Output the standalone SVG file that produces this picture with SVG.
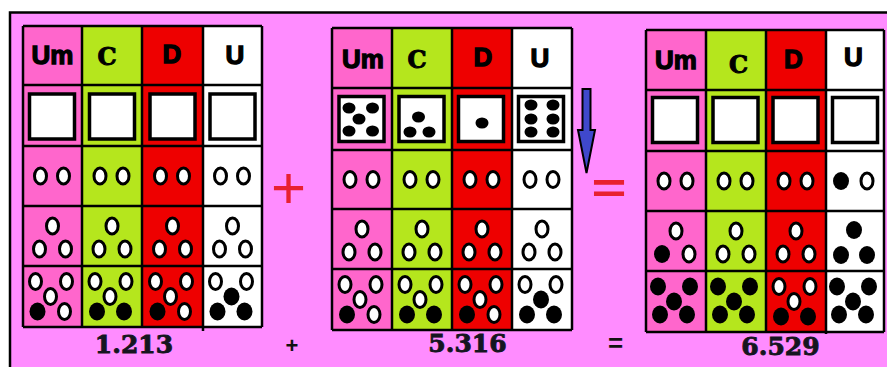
<svg xmlns="http://www.w3.org/2000/svg" width="887" height="367" viewBox="0 0 887 367">
<style>
.pk{fill:#FF66CC}.lm{fill:#B5E61D}.rd{fill:#EE0000}.wh{fill:#FFFFFF}
.gl{stroke:#000;stroke-width:2.5;fill:none}
.w{fill:#fff;stroke:#000;stroke-width:3}
.b{fill:#000}
.sq{fill:#fff;stroke:#000;stroke-width:3.5}
.hd{font-family:"Liberation Sans",Arial,sans-serif;font-weight:bold;font-size:26px;fill:#000;stroke:#000;stroke-width:1.3;text-anchor:middle}
.hc{font-family:"DejaVu Serif","Liberation Serif",serif;font-weight:bold;font-size:24px;fill:#000;stroke:#000;stroke-width:1;text-anchor:middle}
.num{font-family:"DejaVu Serif","Liberation Serif",serif;font-weight:bold;font-size:25px;fill:#151520;stroke:#151520;stroke-width:0.9;text-anchor:middle}
.op{font-family:"Liberation Sans",Arial,sans-serif;font-weight:bold;fill:#111;text-anchor:middle}
.rop{font-family:"Liberation Sans",Arial,sans-serif;fill:#E82030;text-anchor:middle}
</style>
<defs>
<ellipse id="dw" class="w" rx="6" ry="8"/>
<ellipse id="db" class="b" rx="8" ry="9"/>
<ellipse id="dd" class="b" rx="6.5" ry="5.5"/>
<rect id="sqr" class="sq" x="-22.5" y="-22.5" width="45" height="45"/>
<g id="r3ww"><use href="#dw" x="-12"/><use href="#dw" x="11"/></g>
<g id="r3bw"><use href="#db" x="-14"/><use href="#dw" x="12"/></g>
<g id="r4www"><use href="#dw" y="-10"/><use href="#dw" x="-13" y="13"/><use href="#dw" x="13" y="13"/></g>
<g id="r4wbw"><use href="#dw" y="-10"/><use href="#db" x="-14" y="13"/><use href="#dw" x="13" y="13"/></g>
<g id="r4bbb"><use href="#db" x="-1" y="-11"/><use href="#db" x="-14" y="14"/><use href="#db" x="12" y="14"/></g>
<g id="q1"><use href="#dw" x="-17" y="-15"/><use href="#dw" x="14" y="-15"/><use href="#dw" x="-2"/><use href="#db" x="-15" y="15"/><use href="#dw" x="12" y="15"/></g>
<g id="q2"><use href="#dw" x="-17" y="-15"/><use href="#dw" x="14" y="-15"/><use href="#dw" x="-2"/><use href="#db" x="-15" y="15"/><use href="#db" x="12" y="15"/></g>
<g id="q3"><use href="#dw" x="-17" y="-15"/><use href="#dw" x="14" y="-15"/><use href="#db" x="-1"/><use href="#db" x="-15" y="15"/><use href="#db" x="12" y="15"/></g>
<g id="q5"><use href="#db" x="-18" y="-15"/><use href="#db" x="14" y="-15"/><use href="#db" x="-2"/><use href="#db" x="-16" y="13"/><use href="#db" x="11" y="13"/></g>
<g id="d5"><use href="#dd" x="-13" y="-11"/><use href="#dd" x="10.5" y="-11"/><use href="#dd" x="-3"/><use href="#dd" x="-13" y="12"/><use href="#dd" x="10.5" y="12"/></g>
<g id="d3"><use href="#dd" x="-3.5" y="-2"/><use href="#dd" x="-12" y="13"/><use href="#dd" x="7" y="13"/></g>
<g id="d1"><use href="#dd" y="4"/></g>
<g id="d6"><use href="#dd" x="-11" y="-14"/><use href="#dd" x="11" y="-14"/><use href="#dd" x="-11"/><use href="#dd" x="11"/><use href="#dd" x="-11" y="13"/><use href="#dd" x="11" y="13"/></g>
</defs>
<rect width="887" height="367" fill="#fff"/>
<rect x="10" y="12.5" width="900" height="400" fill="#FF8CFF" stroke="#000" stroke-width="2.5"/>

<g id="grid1">
<rect class="pk" x="23" y="26" width="59" height="301"/>
<rect class="lm" x="82" y="26" width="60" height="301"/>
<rect class="rd" x="142" y="26" width="61" height="301"/>
<rect class="wh" x="203" y="26" width="59" height="301"/>
<path class="gl" d="M23 26V327M82 26V327M142 26V327M203 26V331M262 26V327M23 26H262M23 85H262M23 146H262M23 206H262M23 266H262M23 327H262"/>
<text class="hd" x="52.5" y="64">Um</text>
<text class="hc" x="107" y="65">C</text>
<text class="hd" x="172" y="63">D</text>
<text class="hd" x="235" y="64">U</text>
<use href="#sqr" x="52" y="116.5"/><use href="#sqr" x="112" y="116.5"/><use href="#sqr" x="172.5" y="116.5"/><use href="#sqr" x="232.5" y="116.5"/>
<use href="#r3ww" x="52.5" y="176"/><use href="#r3ww" x="112" y="176"/><use href="#r3ww" x="172.5" y="176"/><use href="#r3ww" x="232.5" y="176"/>
<use href="#r4www" x="52.5" y="236"/><use href="#r4www" x="112" y="236"/><use href="#r4www" x="172.5" y="236"/><use href="#r4www" x="232.5" y="236"/>
<use href="#q1" x="52.5" y="296.5"/><use href="#q2" x="112" y="296.5"/><use href="#q1" x="172.5" y="296.5"/><use href="#q3" x="232.5" y="296.5"/>
<text class="num" x="134" y="353">1.213</text>
</g>

<g id="grid2">
<rect class="pk" x="332" y="28" width="60" height="302"/>
<rect class="lm" x="392" y="28" width="60" height="302"/>
<rect class="rd" x="452" y="28" width="60" height="302"/>
<rect class="wh" x="512" y="28" width="60" height="302"/>
<path class="gl" d="M332 28V330M392 28V330M452 28V330M512 28V330M572 28V330M332 28H572M332 88H572M332 150H572M332 209H572M332 269H572M332 330H572"/>
<text class="hd" x="363" y="68">Um</text>
<text class="hc" x="417" y="68">C</text>
<text class="hd" x="483" y="66">D</text>
<text class="hd" x="540" y="67">U</text>
<use href="#sqr" x="361.5" y="119"/><use href="#sqr" x="421.5" y="119"/><use href="#sqr" x="481" y="119"/><use href="#sqr" x="541" y="119"/>
<use href="#d5" x="362" y="119"/><use href="#d3" x="422" y="119"/><use href="#d1" x="482" y="119"/><use href="#d6" x="542" y="119"/>
<use href="#r3ww" x="362" y="179.5"/><use href="#r3ww" x="422" y="179.5"/><use href="#r3ww" x="482" y="179.5"/><use href="#r3ww" x="542" y="179.5"/>
<use href="#r4www" x="362" y="239"/><use href="#r4www" x="422" y="239"/><use href="#r4www" x="482" y="239"/><use href="#r4www" x="542" y="239"/>
<use href="#q1" x="362" y="299.5"/><use href="#q2" x="422" y="299.5"/><use href="#q1" x="482" y="299.5"/><use href="#q3" x="542" y="299.5"/>
<text class="num" x="467.5" y="352">5.316</text>
</g>

<g id="grid3">
<rect class="pk" x="646" y="30" width="60" height="302"/>
<rect class="lm" x="706" y="30" width="60" height="302"/>
<rect class="rd" x="766" y="30" width="60" height="302"/>
<rect class="wh" x="826" y="30" width="58" height="302"/>
<path class="gl" d="M646 30V332M706 30V332M766 30V332M826 30V334M884 30V332M646 30H884M646 90H884M646 151H884M646 211H884M646 271H884M646 332H884"/>
<text class="hd" x="676" y="69">Um</text>
<text class="hc" x="738.5" y="73">C</text>
<text class="hd" x="793.5" y="68">D</text>
<text class="hd" x="853.5" y="66">U</text>
<use href="#sqr" x="675" y="120"/><use href="#sqr" x="735.5" y="120"/><use href="#sqr" x="795.5" y="120"/><use href="#sqr" x="855" y="120"/>
<use href="#r3ww" x="676" y="181"/><use href="#r3ww" x="736" y="181"/><use href="#r3ww" x="796" y="181"/><use href="#r3bw" x="855" y="181"/>
<use href="#r4wbw" x="676" y="241"/><use href="#r4www" x="736" y="241"/><use href="#r4www" x="796" y="241"/><use href="#r4bbb" x="855" y="241"/>
<use href="#q5" x="676" y="301.5"/><use href="#q5" x="736" y="301.5"/><use href="#q2" x="796" y="301.5"/><use href="#q5" x="855" y="301.5"/>
<text class="num" x="780.5" y="355">6.529</text>
</g>

<g id="op-plus-big"><text class="rop" x="288.5" y="208" font-size="60">+</text></g>
<g id="op-eq-big"><text class="rop" x="609" y="0" font-size="60" font-weight="bold" transform="translate(0,203) scale(1,0.7)">=</text></g>
<g id="op-plus-small"><text class="op" x="292" y="353" font-size="22">+</text></g>
<g id="op-eq-small"><text class="op" x="615.5" y="352" font-size="26">=</text></g>

<g id="connectors">
<polygon points="582.5,89 590.5,89 590.5,130 595,130 586.5,173 578,130 582.5,130" fill="#3F48CC" stroke="#000" stroke-width="2"/>
</g>
</svg>
